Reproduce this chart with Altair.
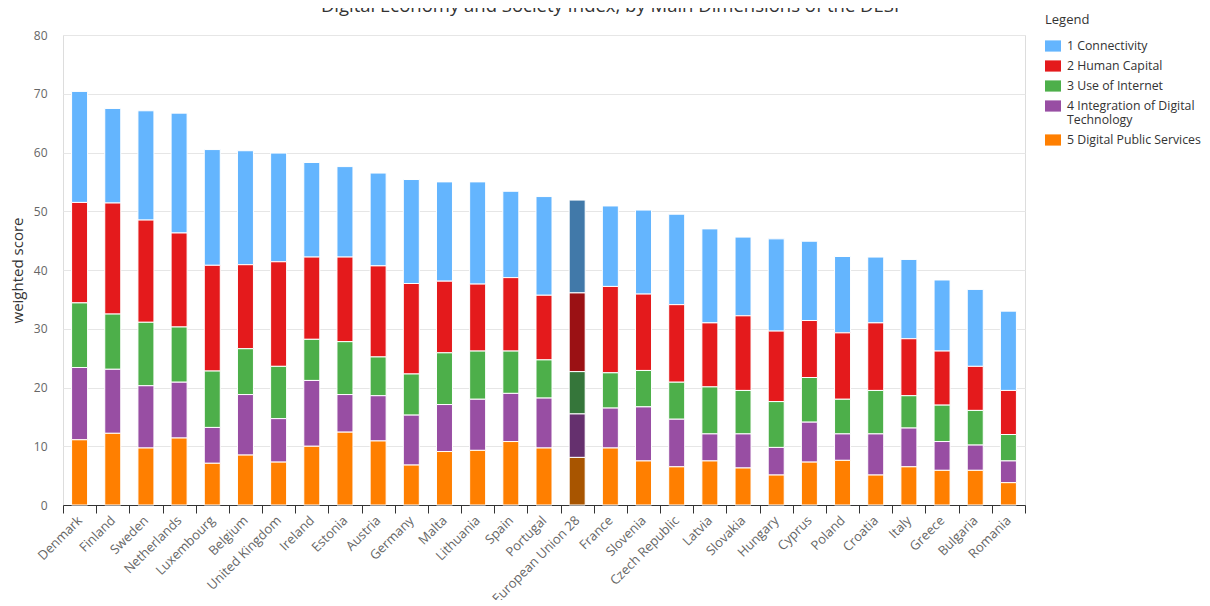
import altair as alt
import pandas as pd

countries = ["Denmark", "Finland", "Sweden", "Netherlands", "Luxembourg", "Belgium",
             "United Kingdom", "Ireland", "Estonia", "Austria", "Germany", "Malta",
             "Lithuania", "Spain", "Portugal", "European Union 28", "France", "Slovenia",
             "Czech Republic", "Latvia", "Slovakia", "Hungary", "Cyprus", "Poland",
             "Croatia", "Italy", "Greece", "Bulgaria", "Romania"]

connectivity = [18.9, 16.1, 18.6, 20.4, 19.7, 19.4, 18.5, 16.1, 15.4, 15.8, 17.7, 16.9, 17.4, 14.7, 16.8,
                15.8, 13.7, 14.3, 15.4, 16.0, 13.4, 15.7, 13.5, 13.0, 11.2, 13.5, 12.1, 13.1, 13.5]
human_capital = [17.1, 18.9, 17.4, 16.0, 18.0, 14.3, 17.8, 14.0, 14.4, 15.5, 15.4, 12.2, 11.4, 12.5, 11.0,
                 13.4, 14.7, 13.0, 13.2, 10.9, 12.7, 12.0, 9.7, 11.3, 11.5, 9.7, 9.2, 7.5, 7.5]
use_internet = [11.0, 9.4, 10.8, 9.4, 9.6, 7.8, 8.9, 7.0, 9.0, 6.6, 7.0, 8.8, 8.2, 7.2, 6.5,
                7.2, 6.0, 6.2, 6.3, 8.0, 7.4, 7.8, 7.6, 5.9, 7.4, 5.5, 6.2, 5.9, 4.5]
integration = [12.3, 10.9, 10.6, 9.5, 6.1, 10.3, 7.4, 11.2, 6.4, 7.7, 8.5, 8.0, 8.7, 8.2, 8.5,
               7.4, 6.8, 9.2, 8.1, 4.6, 5.8, 4.7, 6.8, 4.5, 7.0, 6.6, 4.9, 4.3, 3.7]
public_services = [11.1, 12.2, 9.7, 11.4, 7.1, 8.5, 7.3, 10.0, 12.4, 10.9, 6.8, 9.1, 9.3, 10.8, 9.7,
                   8.1, 9.7, 7.5, 6.5, 7.5, 6.3, 5.1, 7.3, 7.6, 5.1, 6.5, 5.9, 5.9, 3.8]

series_names = ["1 Connectivity", "2 Human Capital", "3 Use of Internet",
                "4 Integration of Digital Technology", "5 Digital Public Services"]
series_values = [connectivity, human_capital, use_internet, integration, public_services]
colors = ["#64b5fe", "#e41a1c", "#4daf4a", "#984ea3", "#ff7f00"]
eu_colors = ["#4179a9", "#9b1114", "#35763a", "#65306e", "#a85500"]
highlight = "European Union 28"
y_ticks = [0, 10, 20, 30, 40, 50, 60, 70, 80]

rows = []
for s_idx, (name, vals) in enumerate(zip(series_names, series_values)):
    for c, v in zip(countries, vals):
        key = name + " (EU)" if c == highlight else name
        rows.append({"country": c, "series": name, "key": key, "value": v,
                     "stack": len(series_names) - 1 - s_idx})
df = pd.DataFrame(rows)

domain = series_names + [n + " (EU)" for n in series_names]
rng = colors + eu_colors

FONT = "Open Sans"

chart = alt.Chart(df).mark_bar(size=16, stroke="white", strokeWidth=1).encode(
    x=alt.X("country:N", sort=countries, title=None,
            scale=alt.Scale(paddingInner=0, paddingOuter=0),
            axis=alt.Axis(labelAngle=-45, labelAlign="right", labelBaseline="middle",
                          labelPadding=5, tickSize=8, tickBand="extent",
                          domainColor="#333333", tickColor="#333333",
                          labelColor="#666666", labelFontSize=13, labelFont=FONT,
                          grid=False, labelOverlap=False)),
    y=alt.Y("value:Q", stack="zero", title="weighted score",
            scale=alt.Scale(domain=[0, 80], nice=False),
            axis=alt.Axis(values=y_ticks, grid=True, gridColor="#e6e6e6", domain=False,
                          ticks=False, labelPadding=16, labelColor="#666666",
                          labelFontSize=12, labelFont=FONT, titleFont=FONT,
                          titleFontSize=15, titleFontWeight="normal", titleColor="#333333",
                          titlePadding=8)),
    color=alt.Color("key:N", scale=alt.Scale(domain=domain, range=rng),
                    legend=alt.Legend(values=series_names, title="Legend", orient="none",
                                      legendX=982, legendY=-21,
                                      symbolType="M-1,-0.7H1V0.7H-1Z", symbolSize=256,
                                      symbolStrokeWidth=0, symbolOpacity=1,
                                      labelExpr="datum.label == '4 Integration of Digital Technology' ? ['4 Integration of Digital', 'Technology'] : datum.label",
                                      labelFont=FONT, labelFontSize=12.3, labelColor="#333333",
                                      labelLimit=300, titleFont=FONT, titleFontSize=13,
                                      titleFontWeight="normal", titleColor="#333333",
                                      titlePadding=11, rowPadding=5, padding=0, labelOffset=6)),
    order=alt.Order("stack:Q", sort="ascending"),
    tooltip=["country", "series", "value"],
).properties(
    width=962, height=470,
    title=alt.Title(text="Digital Economy and Society Index, by Main Dimensions of the DESI",
                    font=FONT, fontSize=18.5, fontWeight="normal", color="#333333",
                    anchor="middle", dx=66, offset=0, dy=1),
    autosize=alt.AutoSizeParams(type="none"),
    padding={"left": 55, "top": 27, "right": 176, "bottom": 95},
).configure_view(strokeWidth=0).configure(font=FONT)

chart.save("out.html", embed_options={"renderer": "svg", "actions": False})
